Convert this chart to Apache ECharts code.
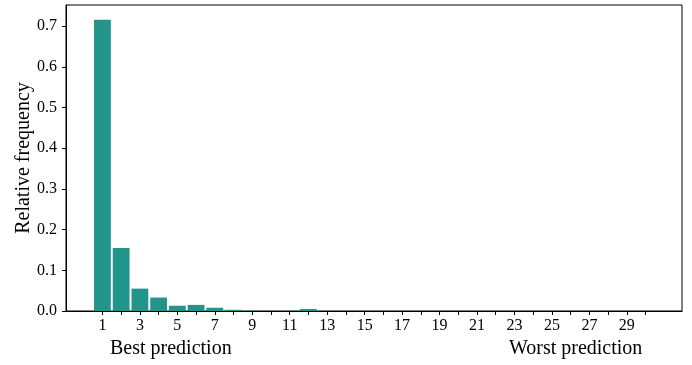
<!DOCTYPE html>
<html>
<head>
<meta charset="utf-8">
<script src="https://cdn.jsdelivr.net/npm/echarts@6/dist/echarts.min.js"></script>
<style>html,body{margin:0;padding:0;background:#fff;}#c{width:692px;height:365px;}</style>
</head>
<body>
<div id="c"></div>
<script>
const ranks = [1,2,3,4,5,6,7,8,9,10,11,12,13,14,15,16,17,18,19,20,21,22,23,24,25,26,27,28,29,30];
const freq = [0.716,0.155,0.055,0.033,0.013,0.015,0.008,0.003,0.0008,0.0006,0.0008,0.005,0,0,0,0,0,0,0,0,0,0,0,0,0,0,0,0,0,0];
const xTicks = [1,2,3,4,5,6,7,8,9,10,11,12,13,14,15,16,17,18,19,20,21,22,23,24,25,26,27,28,29,30];
const xTickLabels = [1,3,5,7,9,11,13,15,17,19,21,23,25,27,29];
const yTicks = [0,0.1,0.2,0.3,0.4,0.5,0.6,0.7];

const font = 'Liberation Serif';
const chart = echarts.init(document.getElementById('c'));
chart.setOption({
  animation: false,
  grid: {left: 66, right: 10, top: 5, bottom: 54, outerBoundsMode: 'none', containLabel: false,
    show: true, borderColor: '#000', borderWidth: 1, backgroundColor: 'transparent'},
  xAxis: {
    type: 'value', min: -0.945, max: 31.945,
    axisLine: {show: true, onZero: false, lineStyle: {color: '#000', width: 1}},
    axisTick: {show: true, length: 4, inside: false, customValues: xTicks, lineStyle: {color: '#000'}},
    axisLabel: {show: true, customValues: xTickLabels, color: '#000', fontFamily: font, fontSize: 16, margin: 7},
    splitLine: {show: false}
  },
  yAxis: {
    type: 'value', min: 0, max: 0.752,
    name: 'Relative frequency', nameLocation: 'middle', nameGap: 32, nameMoveOverlap: false,
    nameTextStyle: {color: '#000', fontFamily: font, fontSize: 20},
    axisLine: {show: true, onZero: false, lineStyle: {color: '#000', width: 1}},
    axisTick: {show: true, length: 4, customValues: yTicks, lineStyle: {color: '#000'}},
    axisLabel: {show: true, customValues: yTicks, color: '#000', fontFamily: font, fontSize: 16, margin: 9,
      formatter: v => Number(v).toFixed(1)},
    splitLine: {show: false}
  },
  graphic: [
    {type: 'text', left: 110, top: 339, style: {text: 'Best prediction', font: '20px "Liberation Serif"', fill: '#000'}},
    {type: 'text', left: 509, top: 339, style: {text: 'Worst prediction', font: '20px "Liberation Serif"', fill: '#000'}}
  ],
  series: [{
    type: 'bar',
    data: ranks.map((r, i) => [r, freq[i]]),
    barWidth: 16.8,
    itemStyle: {color: '#22958a'}
  }]
});
</script>
</body>
</html>
